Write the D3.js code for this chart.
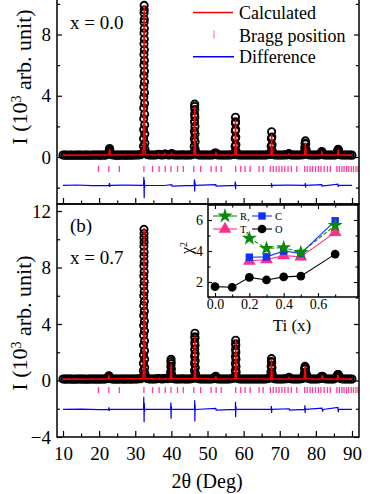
<!DOCTYPE html>
<html><head><meta charset="utf-8">
<script src="https://cdn.jsdelivr.net/npm/d3@7"></script>
<style>
body{margin:0;background:#fff}
svg{display:block}
text{font-family:'Liberation Serif','Times New Roman',serif;fill:#000}
</style>
</head><body>
<svg id="c" width="382" height="494"></svg>
<script>
// ---------------- DATA ----------------
const scanStart = 10, scanStep = 0.5;
const bg0 = [
0.13,0.12,0.12,0.11,0.12,0.12,0.11,0.12,0.12,0.12,
0.12,0.11,0.12,0.12,0.12,0.11,0.12,0.12,0.13,0.12,
0.12,0.12,0.13,0.12,0.14,0.22,0.30,0.15,0.13,0.12,
0.12,0.12,0.12,0.13,0.12,0.12,0.12,0.13,0.12,0.13,
0.13,0.13,0.14,0.15,0.22,0.35,0.20,0.15,0.13,0.13,
0.13,0.13,0.15,0.17,0.14,0.13,0.15,0.18,0.14,0.13,
0.17,0.14,0.13,0.13,0.13,0.13,0.14,0.13,0.13,0.13,
0.13,0.14,0.18,0.35,0.18,0.14,0.13,0.13,0.13,0.13,
0.13,0.13,0.13,0.14,0.25,0.15,0.13,0.13,0.13,0.13,
0.13,0.13,0.13,0.14,0.16,0.30,0.18,0.14,0.13,0.13,
0.13,0.13,0.13,0.13,0.13,0.13,0.13,0.13,0.13,0.13,
0.13,0.13,0.13,0.14,0.16,0.30,0.16,0.14,0.13,0.13,
0.13,0.13,0.13,0.14,0.14,0.22,0.14,0.13,0.13,0.13,
0.13,0.13,0.14,0.15,0.30,0.20,0.15,0.13,0.13,0.13,
0.13,0.13,0.14,0.25,0.15,0.13,0.13,0.13,0.13,0.13,
0.13,0.14,0.30,0.16,0.13,0.13,0.13,0.13,0.13,0.13,
0.12];
const bg1 = [
0.11,0.10,0.10,0.11,0.10,0.10,0.09,0.10,0.10,0.11,
0.10,0.10,0.10,0.09,0.10,0.10,0.11,0.10,0.10,0.10,
0.10,0.10,0.11,0.10,0.12,0.20,0.14,0.11,0.10,0.10,
0.10,0.10,0.11,0.10,0.10,0.10,0.11,0.10,0.10,0.11,
0.11,0.11,0.12,0.13,0.20,0.30,0.18,0.13,0.11,0.11,
0.11,0.11,0.13,0.14,0.12,0.11,0.13,0.15,0.12,0.15,
0.35,0.14,0.11,0.11,0.11,0.11,0.12,0.11,0.11,0.11,
0.11,0.12,0.16,0.30,0.16,0.12,0.11,0.11,0.11,0.11,
0.11,0.11,0.11,0.12,0.25,0.13,0.11,0.11,0.11,0.11,
0.11,0.11,0.11,0.12,0.14,0.28,0.20,0.12,0.11,0.11,
0.11,0.11,0.11,0.11,0.11,0.11,0.11,0.11,0.11,0.11,
0.11,0.11,0.11,0.12,0.15,0.28,0.18,0.12,0.11,0.11,
0.11,0.11,0.11,0.12,0.13,0.20,0.13,0.11,0.11,0.11,
0.11,0.11,0.12,0.15,0.90,0.35,0.14,0.11,0.11,0.11,
0.11,0.11,0.13,0.28,0.25,0.13,0.11,0.11,0.11,0.11,
0.11,0.20,0.40,0.25,0.12,0.11,0.11,0.11,0.11,0.11,
0.10];

// Observed points on the Bragg peaks: [2θ, I (10^3)]
const peaks0 = [
[22.75,0.22],[22.8,0.35],[22.85,0.48],[22.9,0.55],[22.95,0.46],[23.0,0.32],[23.05,0.2],
[32.25,0.3],[32.28,0.7],[32.3,1.2],[32.32,1.8],[32.34,2.5],[32.35,3.2],[32.37,3.9],[32.38,4.6],[32.39,5.3],[32.4,6.0],[32.41,6.7],[32.42,7.4],[32.43,8.1],[32.44,8.8],[32.45,9.4],[32.46,9.9],[32.48,9.6],[32.5,9.0],[32.51,8.4],[32.52,7.7],[32.53,7.0],[32.54,6.3],[32.55,5.6],[32.56,4.9],[32.57,4.2],[32.58,3.5],[32.6,2.8],[32.62,2.1],[32.64,1.5],[32.66,0.9],[32.7,0.5],
[38.15,0.18],[38.2,0.2],[40.05,0.2],[40.1,0.22],
[46.3,0.3],[46.33,0.7],[46.36,1.2],[46.38,1.7],[46.4,2.3],[46.42,2.8],[46.44,3.3],[46.46,3.45],[46.48,3.1],[46.5,2.6],[46.52,2.0],[46.54,1.5],[46.57,1.0],[46.6,0.5],
[52.3,0.22],[52.35,0.26],[52.4,0.2],
[57.6,0.3],[57.64,0.7],[57.67,1.2],[57.7,1.7],[57.72,2.2],[57.75,2.6],[57.78,2.3],[57.8,1.8],[57.83,1.3],[57.86,0.8],[57.9,0.4],
[67.55,0.3],[67.62,0.7],[67.68,1.2],[67.75,1.65],[67.82,1.3],[67.88,0.8],[67.95,0.4],
[72.5,0.18],[72.55,0.2],
[76.8,0.3],[76.9,0.6],[77.0,0.9],[77.1,1.05],[77.2,0.85],[77.3,0.5],[77.4,0.3],
[81.45,0.22],[81.55,0.32],[81.65,0.36],[81.75,0.3],[81.85,0.2],
[85.9,0.25],[86.0,0.38],[86.1,0.48],[86.2,0.5],[86.3,0.42],[86.4,0.3]
];
const peaks1 = [
[22.6,0.2],[22.65,0.28],[22.7,0.34],[22.75,0.3],[22.8,0.2],
[32.2,0.3],[32.23,0.7],[32.25,1.2],[32.27,1.8],[32.29,2.5],[32.3,3.2],[32.32,3.9],[32.33,4.6],[32.34,5.3],[32.35,6.0],[32.36,6.7],[32.37,7.4],[32.38,8.1],[32.39,8.8],[32.4,9.5],[32.41,10.1],[32.42,10.7],[32.44,10.4],[32.45,9.8],[32.46,9.1],[32.47,8.4],[32.48,7.7],[32.49,7.0],[32.5,6.3],[32.51,5.6],[32.52,4.9],[32.53,4.2],[32.55,3.5],[32.56,2.8],[32.58,2.1],[32.6,1.5],[32.62,0.9],[32.66,0.5],
[39.75,0.3],[39.8,0.6],[39.84,1.0],[39.88,1.35],[39.92,1.5],[39.96,1.2],[40.0,0.8],[40.05,0.45],[40.1,0.25],
[46.35,0.3],[46.38,0.7],[46.41,1.2],[46.43,1.7],[46.45,2.2],[46.47,2.7],[46.49,3.1],[46.51,3.35],[46.53,3.0],[46.55,2.5],[46.57,1.9],[46.6,1.4],[46.63,0.9],[46.67,0.5],
[52.2,0.2],[52.25,0.26],[52.3,0.3],[52.35,0.25],[52.4,0.18],
[57.65,0.3],[57.68,0.7],[57.71,1.2],[57.74,1.7],[57.76,2.2],[57.78,2.6],[57.8,2.85],[57.83,2.5],[57.85,2.0],[57.88,1.5],[57.9,1.0],[57.93,0.6],[57.97,0.3],
[67.5,0.3],[67.56,0.6],[67.62,1.0],[67.68,1.35],[67.72,1.55],[67.78,1.3],[67.84,0.9],[67.9,0.5],[67.96,0.25],
[72.55,0.18],[72.6,0.22],[72.65,0.18],
[76.7,0.25],[76.8,0.5],[76.9,0.8],[77.0,1.0],[77.1,0.9],[77.2,0.6],[77.3,0.35],[77.4,0.2],
[81.5,0.18],[81.6,0.23],[81.7,0.28],[81.8,0.3],[81.9,0.27],[82.0,0.22],[82.1,0.17],
[85.8,0.2],[85.9,0.28],[86.0,0.36],[86.1,0.42],[86.2,0.42],[86.3,0.36],[86.4,0.27],[86.5,0.2]
];

// Calculated profiles: [2θ, I]
const calc0 = [[10,0.12],[22.6,0.13],[22.8,0.3],[22.9,0.5],[23.0,0.3],[23.2,0.13],[32.1,0.15],[32.3,0.8],[32.4,5.0],[32.46,9.9],[32.52,5.0],[32.62,0.8],[32.8,0.15],[36.4,0.13],[36.5,0.18],[36.6,0.13],[38.1,0.13],[38.2,0.2],[38.3,0.13],[40.0,0.13],[40.1,0.2],[40.2,0.13],[46.2,0.14],[46.35,0.6],[46.43,2.0],[46.47,3.3],[46.52,2.0],[46.6,0.6],[46.75,0.14],[52.2,0.13],[52.35,0.25],[52.5,0.13],[57.5,0.14],[57.65,0.5],[57.72,1.6],[57.76,2.45],[57.81,1.6],[57.9,0.5],[58.05,0.14],[67.5,0.13],[67.65,0.5],[67.75,1.5],[67.85,0.5],[68.0,0.13],[72.4,0.13],[72.52,0.18],[72.65,0.13],[76.85,0.13],[77.0,0.5],[77.1,0.95],[77.2,0.5],[77.35,0.13],[81.45,0.13],[81.65,0.3],[81.85,0.13],[85.95,0.13],[86.18,0.45],[86.4,0.13],[90,0.12]];
const calc1 = [[10,0.1],[22.5,0.11],[22.7,0.3],[22.9,0.11],[32.1,0.13],[32.28,0.8],[32.37,5.0],[32.43,10.8],[32.49,5.0],[32.58,0.8],[32.75,0.13],[36.5,0.11],[36.6,0.15],[36.7,0.11],[38.2,0.11],[38.3,0.15],[38.4,0.11],[39.7,0.12],[39.82,0.45],[39.92,1.2],[40.02,0.45],[40.15,0.12],[46.3,0.13],[46.4,0.6],[46.46,2.0],[46.51,3.1],[46.56,2.0],[46.63,0.6],[46.75,0.13],[52.15,0.11],[52.3,0.28],[52.45,0.11],[57.6,0.12],[57.7,0.6],[57.76,1.8],[57.81,2.9],[57.86,1.8],[57.93,0.6],[58.05,0.12],[67.5,0.11],[67.62,0.5],[67.72,1.5],[67.82,0.5],[67.95,0.11],[72.45,0.11],[72.6,0.2],[72.75,0.11],[76.7,0.11],[76.88,0.45],[77.0,1.0],[77.12,0.45],[77.3,0.11],[81.5,0.11],[81.8,0.28],[82.1,0.11],[85.9,0.11],[86.15,0.4],[86.4,0.11],[90,0.1]];

// Difference curves: [2θ, I]
const diff0 = [[10,-1.85],[14,-1.83],[18,-1.87],[22.7,-1.85],[22.85,-1.7],[22.95,-1.95],[23.05,-1.85],[27,-1.84],[32.3,-1.85],[32.38,-1.3],[32.44,-2.3],[32.48,-2.7],[32.52,-1.5],[32.58,-2.0],[32.65,-1.85],[38,-1.86],[40.1,-1.8],[40.2,-1.9],[46.3,-1.85],[46.38,-1.45],[46.45,-2.25],[46.52,-1.6],[46.6,-1.9],[46.7,-1.85],[52.3,-1.8],[52.4,-1.9],[57.6,-1.85],[57.7,-1.6],[57.78,-2.1],[57.85,-1.8],[57.95,-1.85],[63,-1.86],[67.65,-1.85],[67.72,-1.7],[67.8,-2.0],[67.88,-1.85],[72,-1.84],[77.0,-1.85],[77.07,-1.7],[77.15,-2.0],[77.22,-1.85],[81.6,-1.8],[81.7,-1.9],[86.1,-1.78],[86.2,-1.95],[86.3,-1.85],[90,-1.85]];
const diff1 = [[10,-2.05],[15,-2.03],[20,-2.06],[22.6,-2.05],[22.7,-1.9],[22.8,-2.15],[22.9,-2.05],[28,-2.04],[32.3,-2.05],[32.36,-1.15],[32.42,-2.3],[32.45,-2.95],[32.5,-1.6],[32.56,-2.2],[32.65,-2.05],[36,-2.04],[39.8,-2.05],[39.86,-1.55],[39.92,-2.7],[39.98,-1.8],[40.05,-2.05],[44,-2.04],[46.4,-2.05],[46.46,-1.4],[46.5,-2.9],[46.55,-1.7],[46.62,-2.1],[46.7,-2.05],[52.3,-1.98],[52.4,-2.1],[57.7,-2.05],[57.75,-1.5],[57.8,-2.6],[57.86,-1.8],[57.93,-2.05],[63,-2.04],[67.62,-2.05],[67.68,-1.8],[67.74,-2.3],[67.8,-2.0],[67.88,-2.05],[72.6,-2.0],[72.7,-2.1],[76.9,-2.05],[76.97,-1.75],[77.03,-2.3],[77.1,-1.95],[77.2,-2.05],[81.7,-1.95],[81.85,-2.2],[82.0,-2.05],[86.1,-1.9],[86.2,-2.25],[86.3,-2.05],[90,-2.05]];

// Bragg reflection positions (2θ)
const bragg = [19.8,22.7,25.6,32.4,34.8,36.6,38.3,39.9,41.7,43.3,46.2,48.1,51.0,52.4,53.8,57.8,59.2,60.4,61.8,64.3,65.4,67.4,68.2,69.0,69.8,70.6,71.4,72.3,73.2,74.7,76.9,77.6,78.4,79.1,79.9,80.7,81.4,82.3,83.2,84.0,85.8,86.5,87.2,87.8,88.5,89.1,89.8,90.4,91.1,91.7];
const braggLevel = [-0.78, -0.68];

// Axis ticks
const xMajor = [10,20,30,40,50,60,70,80,90];
const xMinor = [15,25,35,45,55,65,75,85];
const yMajorA = [0,4,8], yMinorA = [-2,2,6,10];
const yMajorB = [-4,0,4,8,12], yMinorB = [-2,2,6,10];
const panelText = [["x = 0.0"],["(b)","x = 0.7"]];
const legendItems = ["Calculated","Bragg position","Difference"];

// Inset: χ² vs Ti content
const tiAll = [0.0,0.1,0.2,0.3,0.4,0.5,0.7];
const chiO = [1.7,1.66,2.3,2.13,2.33,2.38,3.8];
const tiSub = [0.2,0.3,0.4,0.5,0.7];
const chiR = [4.82,4.17,4.22,3.9,5.65];
const chiC = [3.6,3.62,4.0,3.85,5.95];
const chiT = [3.35,3.45,3.7,3.63,5.2];
const insetXMajor = [0,0.2,0.4,0.6], insetXMinor = [0.1,0.3,0.5,0.7];
const insetYMajor = [2,4,6], insetYMinor = [1,3,5,7];

// ---------------- DRAW ----------------
const svg = d3.select('#c');
const L = 57, R = 359;
const x = d3.scaleLinear().domain([10,90]).range([63,352]);
const RED = '#ff0000', BLUE = '#0000ff', PINK = '#ff3c9e';
const GREEN = '#0a8a0a', IBLUE = '#1030ff', IPINK = '#ff2d8c';

const panels = [
  {top:-40, bottom:204, y:d3.scaleLinear().domain([0,8]).range([157,34.5]),
   bg:bg0, pk:peaks0, calc:calc0, diff:diff0, bl:braggLevel[0], maj:yMajorA, min:yMinorA, xlabels:false},
  {top:204, bottom:437, y:d3.scaleLinear().domain([-4,12]).range([437,211]),
   bg:bg1, pk:peaks1, calc:calc1, diff:diff1, bl:braggLevel[1], maj:yMajorB, min:yMinorB, xlabels:true}
];

const defs = svg.append('defs');
panels.forEach((p,i)=>{
  defs.append('clipPath').attr('id','clip'+i).append('rect')
    .attr('x',L).attr('y',p.top).attr('width',R-L).attr('height',p.bottom-p.top);
});

panels.forEach((p,i)=>{
  const g = svg.append('g').attr('clip-path',`url(#clip${i})`);
  const y = p.y;
  // Bragg ticks
  g.append('g').selectAll('line').data(bragg).join('line')
    .attr('x1',d=>x(d)).attr('x2',d=>x(d))
    .attr('y1',y(p.bl)-3).attr('y2',y(p.bl)+3)
    .attr('stroke',PINK).attr('stroke-width',1.3);
  // difference
  g.append('path').datum(p.diff)
    .attr('d',d3.line().x(d=>x(d[0])).y(d=>y(d[1])))
    .attr('fill','none').attr('stroke',BLUE).attr('stroke-width',1.2);
  // observed
  const obs = p.bg.map((v,k)=>[scanStart+k*scanStep, v]).concat(p.pk)
    .sort((a,b)=>a[0]-b[0]);
  g.append('g').selectAll('circle').data(obs).join('circle')
    .attr('cx',d=>x(d[0])).attr('cy',d=>y(d[1])).attr('r',3.6)
    .attr('fill','none').attr('stroke','#000').attr('stroke-width',1.9);
  // calculated
  g.append('path').datum(p.calc)
    .attr('d',d3.line().x(d=>x(d[0])).y(d=>y(d[1])))
    .attr('fill','none').attr('stroke',RED).attr('stroke-width',1.6);

  // frame
  svg.append('rect').attr('x',L).attr('y',p.top).attr('width',R-L).attr('height',p.bottom-p.top)
    .attr('fill','none').attr('stroke','#000').attr('stroke-width',1.5);

  // y axes
  svg.append('g').attr('transform',`translate(${L},0)`)
    .call(d3.axisLeft(y).tickValues(p.maj).tickSize(-5).tickPadding(6).tickFormat(d3.format('d')));
  svg.append('g').attr('transform',`translate(${L},0)`)
    .call(d3.axisLeft(y).tickValues(p.min).tickSize(-3).tickFormat(''));
  svg.append('g').attr('transform',`translate(${R},0)`)
    .call(d3.axisRight(y).tickValues(p.maj).tickSize(-5).tickFormat(''));
  svg.append('g').attr('transform',`translate(${R},0)`)
    .call(d3.axisRight(y).tickValues(p.min).tickSize(-3).tickFormat(''));
  // x axes (bottom of panel)
  svg.append('g').attr('transform',`translate(0,${p.bottom})`)
    .call(d3.axisBottom(x).tickValues(xMajor).tickSize(-6).tickPadding(10).tickFormat(p.xlabels? d3.format('d') : ''));
  svg.append('g').attr('transform',`translate(0,${p.bottom})`)
    .call(d3.axisBottom(x).tickValues(xMinor).tickSize(-3.5).tickFormat(''));

  // y label
  const yl = svg.append('text')
    .attr('transform',`translate(27,${i===0?77:323}) rotate(-90)`)
    .attr('text-anchor','middle').style('font-size','22px');
  yl.append('tspan').text('I (10');
  yl.append('tspan').attr('dy','-0.45em').style('font-size','14px').text('3');
  yl.append('tspan').attr('dy','0.45em').text(' arb. unit)');
});

svg.selectAll('.domain').remove();
svg.selectAll('.tick line').attr('stroke','#000').attr('stroke-width',1.2);
svg.selectAll('.tick text').style('font-family',"'Liberation Serif','Times New Roman',serif").style('font-size','19px').attr('fill','#000');

// panel texts
svg.append('text').attr('x',70).attr('y',29).style('font-size','19px').text(panelText[0][0]);
svg.append('text').attr('x',70).attr('y',232).style('font-size','19px').text(panelText[1][0]);
svg.append('text').attr('x',70).attr('y',264).style('font-size','19px').text(panelText[1][1]);

// x title
svg.append('text').attr('x',207).attr('y',488).attr('text-anchor','middle').style('font-size','20px').text('2θ (Deg)');

// legend
const lg = svg.append('g');
lg.append('line').attr('x1',193).attr('x2',233).attr('y1',12.5).attr('y2',12.5).attr('stroke',RED).attr('stroke-width',1.5);
lg.append('line').attr('x1',214).attr('x2',214).attr('y1',30.5).attr('y2',38.5).attr('stroke',PINK).attr('stroke-width',1.3).attr('opacity',0.6);
lg.append('line').attr('x1',193).attr('x2',234).attr('y1',56.7).attr('y2',56.7).attr('stroke',BLUE).attr('stroke-width',1.5);
[19.3,41.6,63.3].forEach((yy,k)=>{
  lg.append('text').attr('x',239).attr('y',yy).style('font-size','18px').text(legendItems[k]);
});

// ---------------- INSET ----------------
const ix = d3.scaleLinear().domain([0,0.6]).range([215,318]);
const iy = d3.scaleLinear().domain([2,6]).range([282,220]);
const IL=208, IR=358, IT=205, IB=297;
svg.append('rect').attr('x',IL).attr('y',IT).attr('width',IR-IL).attr('height',IB-IT)
  .attr('fill','#fff').attr('stroke','#000').attr('stroke-width',1.5);
const ig = svg.append('g').attr('class','inset');
ig.append('g').attr('transform',`translate(0,${IB})`)
  .call(d3.axisBottom(ix).tickValues(insetXMajor).tickSize(-4).tickPadding(2).tickFormat(d3.format('.1f')));
ig.append('g').attr('transform',`translate(0,${IB})`)
  .call(d3.axisBottom(ix).tickValues(insetXMinor).tickSize(-2.5).tickFormat(''));
ig.append('g').attr('transform',`translate(0,${IT})`)
  .call(d3.axisTop(ix).tickValues(insetXMajor).tickSize(-4).tickFormat(''));
ig.append('g').attr('transform',`translate(0,${IT})`)
  .call(d3.axisTop(ix).tickValues(insetXMinor).tickSize(-2.5).tickFormat(''));
ig.append('g').attr('transform',`translate(${IL},0)`)
  .call(d3.axisLeft(iy).tickValues(insetYMajor).tickSize(-4).tickPadding(5).tickFormat(d3.format('d')));
ig.append('g').attr('transform',`translate(${IL},0)`)
  .call(d3.axisLeft(iy).tickValues(insetYMinor).tickSize(-2.5).tickFormat(''));
ig.append('g').attr('transform',`translate(${IR},0)`)
  .call(d3.axisRight(iy).tickValues(insetYMajor).tickSize(-4).tickFormat(''));
ig.append('g').attr('transform',`translate(${IR},0)`)
  .call(d3.axisRight(iy).tickValues(insetYMinor).tickSize(-2.5).tickFormat(''));
ig.selectAll('.domain').remove();
ig.selectAll('.tick line').attr('stroke','#000').attr('stroke-width',1.1);
ig.selectAll('.tick text').style('font-family',"'Liberation Serif','Times New Roman',serif").style('font-size','14px').attr('fill','#000');

svg.append('text').attr('x',292).attr('y',331).attr('text-anchor','middle').style('font-size','17px').text('Ti (x)');
const chi = svg.append('text').attr('transform','translate(192,248) rotate(-90)').attr('text-anchor','middle').style('font-size','16px');
chi.append('tspan').text('χ');
chi.append('tspan').attr('dy','-0.5em').style('font-size','10px').text('2');

const series = [
  {xs:tiAll, ys:chiO, color:'#000', sym:d3.symbolCircle, size:60, dash:null},
  {xs:tiSub, ys:chiT, color:IPINK, sym:d3.symbolTriangle, size:70, dash:null},
  {xs:tiSub, ys:chiC, color:IBLUE, sym:d3.symbolSquare, size:55, dash:null},
  {xs:tiSub, ys:chiR, color:GREEN, sym:d3.symbolStar, size:70, dash:'4,2'}
];
series.forEach(s=>{
  const pts = s.xs.map((v,k)=>[v,s.ys[k]]);
  ig.append('path').datum(pts).attr('d',d3.line().x(d=>ix(d[0])).y(d=>iy(d[1])))
    .attr('fill','none').attr('stroke',s.color).attr('stroke-width',1.1)
    .attr('stroke-dasharray',s.dash);
  ig.append('g').selectAll('path').data(pts).join('path')
    .attr('transform',d=>`translate(${ix(d[0])},${iy(d[1])})`)
    .attr('d',d3.symbol().type(s.sym).size(s.size)).attr('fill',s.color);
});
// inset legend
const il = [
  {x1:213,x2:237,y:216,mx:225,s:series[3],t:'R,'},
  {x1:252,x2:272,y:216,mx:262,s:series[2],t:'C'},
  {x1:213,x2:237,y:229,mx:225,s:series[1],t:'T,'},
  {x1:252,x2:272,y:229,mx:262,s:series[0],t:'O'}
];
il.forEach(e=>{
  ig.append('line').attr('x1',e.x1).attr('x2',e.x2).attr('y1',e.y).attr('y2',e.y).attr('stroke',e.s.color).attr('stroke-width',1.1);
  ig.append('path').attr('transform',`translate(${e.mx},${e.y})`).attr('d',d3.symbol().type(e.s.sym).size(e.s.size)).attr('fill',e.s.color);
  ig.append('text').attr('x',e.x2+3).attr('y',e.y+3.5).style('font-size','10.5px').text(e.t);
});
</script>
</body></html>
